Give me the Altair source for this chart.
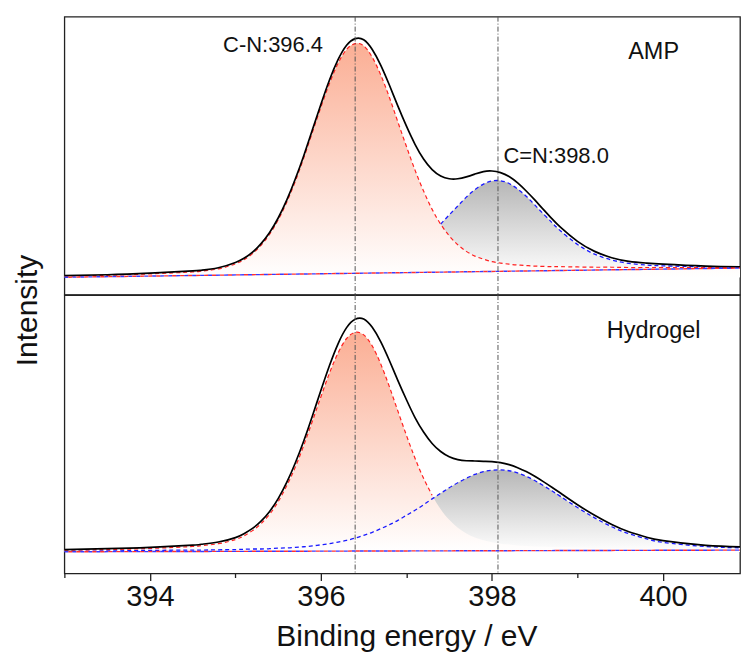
import altair as alt
import pandas as pd

FONT = "Liberation Sans"

# ---------------- data ----------------
energy = [393.0, 393.5, 394.0, 394.5, 394.6, 394.8, 395.0, 395.1, 395.2, 395.3,
          395.4, 395.5, 395.6, 395.7, 395.8, 395.9, 396.0, 396.1, 396.2, 396.3,
          396.4, 396.5, 396.6, 396.7, 396.8, 396.9, 397.0, 397.1, 397.2, 397.3,
          397.4, 397.5, 397.6, 397.7, 397.8, 397.9, 398.0, 398.1, 398.2, 398.3,
          398.4, 398.5, 398.6, 398.7, 398.8, 399.0, 399.2, 399.4, 399.6, 399.8,
          400.0, 400.5, 401.0]

amp_total = [6.9, 7.2, 7.8, 8.6, 8.8, 9.7, 11.6, 13.1, 15.3, 18.4,
             22.4, 27.6, 34.0, 41.6, 50.1, 59.3, 68.5, 77.2, 84.5, 89.7,
             92.1, 91.7, 88.2, 82.5, 75.4, 67.8, 60.6, 54.1, 48.8, 45.0,
             42.7, 41.7, 41.7, 42.4, 43.4, 44.3, 44.5, 43.9, 42.5, 40.2,
             37.3, 34.1, 30.7, 27.4, 24.3, 19.2, 15.6, 13.3, 12.0, 11.4,
             11.0, 10.3, 10.0]
amp_cn = [6.7, 7.0, 7.5, 8.2, 8.5, 9.3, 11.1, 12.6, 14.8, 17.8,
          21.8, 26.9, 33.3, 40.8, 49.3, 58.4, 67.5, 76.0, 83.2, 88.2,
          90.3, 89.5, 85.4, 79.0, 71.0, 62.1, 53.3, 44.8, 37.3, 30.7,
          25.4, 21.2, 18.0, 15.6, 13.9, 12.8, 11.9, 11.4, 11.0, 10.7,
          10.5, 10.3, 10.2, 10.1, 10.1, 10.0, 9.9, 9.9, 9.8, 9.8,
          9.8, 9.8, 9.8]
amp_cdn = [6.5, 6.7, 7.0, 7.3, 7.3, 7.5, 7.6, 7.7, 7.7, 7.8,
           7.9, 8.0, 8.1, 8.2, 8.3, 8.4, 8.6, 8.7, 8.9, 9.2,
           9.5, 10.0, 10.6, 11.3, 12.3, 13.6, 15.3, 17.3, 19.6, 22.4,
           25.4, 28.7, 31.9, 35.1, 37.8, 39.8, 40.9, 41.0, 40.0, 38.0,
           35.4, 32.3, 29.1, 26.0, 23.0, 18.1, 14.6, 12.5, 11.3, 10.7,
           10.4, 10.1, 10.0]

gel_total = [8.6, 8.9, 9.4, 10.2, 10.5, 11.3, 12.9, 14.3, 16.2, 18.8,
             22.3, 26.9, 32.7, 39.7, 47.7, 56.6, 65.8, 74.7, 82.5, 88.3,
             91.3, 91.4, 88.4, 83.2, 76.5, 69.3, 62.4, 56.0, 50.8, 46.7,
             43.8, 41.9, 40.9, 40.5, 40.4, 40.3, 40.2, 39.8, 39.1, 38.0,
             36.6, 34.9, 33.0, 31.0, 28.9, 24.7, 20.9, 17.6, 15.0, 13.1,
             11.8, 10.1, 9.5]
gel_cn = [8.4, 8.6, 9.0, 9.7, 10.0, 10.7, 12.2, 13.5, 15.4, 17.9,
          21.3, 25.8, 31.5, 38.2, 46.1, 54.7, 63.5, 72.0, 79.2, 84.4,
          86.6, 85.7, 81.7, 75.2, 67.1, 58.3, 49.6, 41.4, 34.2, 28.1,
          23.1, 19.3, 16.4, 14.4, 12.9, 11.9, 11.2, 10.7, 10.4, 10.1,
          9.9, 9.7, 9.6, 9.5, 9.4, 9.3, 9.1, 9.0, 9.0, 8.9,
          8.9, 8.8, 8.7]
gel_cdn = [8.0, 8.1, 8.3, 8.4, 8.4, 8.5, 8.6, 8.7, 8.8, 8.8,
           8.9, 9.1, 9.2, 9.4, 9.6, 9.9, 10.3, 10.7, 11.3, 11.9,
           12.7, 13.7, 14.8, 16.1, 17.5, 19.1, 20.9, 22.7, 24.7, 26.8,
           28.8, 30.8, 32.6, 34.2, 35.6, 36.6, 37.1, 37.2, 36.9, 36.1,
           34.9, 33.4, 31.6, 29.7, 27.7, 23.7, 20.0, 16.8, 14.3, 12.5,
           11.2, 9.7, 9.2]

# backgrounds (straight lines, end points)
base_energy = [393.0, 400.9]
amp_base = [6.3, 9.6]
gel_base = [7.8, 8.4]

# visible ends of the dashed components where they emerge
amp_cdn_visible_from = 397.35
gel_cn_visible_to = 397.33

peak_lines = [396.4, 398.07]

amp_ann_text = ["C-N:396.4", "C=N:398.0"]
amp_ann_E = [395.44, 398.75]
amp_ann_v = [87.3, 47.4]

sample_names = ["AMP", "Hydrogel"]
sample_E = [399.89, 399.89]
sample_v = [84.8, 84.6]

x_ticks = [393, 394, 395, 396, 397, 398, 399, 400]

# ---------------- layout ----------------
X_DOMAIN = [393, 400.9]
W = 677
H_TOP = 278.7
H_BOT = 279.0
CURVE = "natural"

red_grad = alt.Gradient(
    gradient="linear",
    stops=[alt.GradientStop(color="#fbae94", offset=0),
           alt.GradientStop(color="#ffffff", offset=1)],
    x1=0, x2=0, y1=0, y2=1)
gray_grad = alt.Gradient(
    gradient="linear",
    stops=[alt.GradientStop(color="#b6b6b6", offset=0),
           alt.GradientStop(color="#ffffff", offset=1)],
    x1=0, x2=0, y1=0, y2=1)

x_axis_bottom = alt.Axis(
    values=x_ticks,
    labelExpr="datum.value % 2 === 0 ? datum.label : ''",
    tickSize={"condition": {"test": "datum.value % 2 === 0", "value": 7}, "value": 4},
    tickColor="#222", tickWidth=1.3,
    domain=False, grid=False,
    labelFont=FONT, labelFontSize=29, labelColor="#111",
    labelBaseline="alphabetic", labelPadding=25,
    title="Binding energy / eV", titleFont=FONT, titleFontSize=30,
    titleFontWeight="normal", titleColor="#111",
    titleBaseline="alphabetic", titleX=342.7, titleY=72.5, titleAlign="center",
)

y_axis_top = alt.Axis(
    title="Intensity", labels=False, ticks=False, domain=False, grid=False,
    titleFont=FONT, titleFontSize=30, titleFontWeight="normal", titleColor="#111",
    titleBaseline="alphabetic", titleAlign="center", titleAngle=270,
    titleX=-28, titleY=294,
)


def panel(df, total, cn, cdn, base, height, x_axis, y_axis, line_filter_cn, line_filter_cdn,
          ann_df, name_df, base_left):
    xs = alt.X("E:Q", scale=alt.Scale(domain=X_DOMAIN, nice=False, zero=False), axis=x_axis)

    def ys(field):
        return alt.Y(f"{field}:Q", scale=alt.Scale(domain=[0, 100], nice=False, zero=False),
                     axis=y_axis)

    base_chart = alt.Chart(df)
    area_cdn = base_chart.mark_area(color=gray_grad, interpolate=CURVE, clip=True).encode(
        x=xs, y=ys(cdn), y2=alt.datum(base_left))
    area_cn = base_chart.mark_area(color=red_grad, interpolate=CURVE, clip=True).encode(
        x=xs, y=ys(cn), y2=alt.datum(base_left))
    line_cdn = base_chart.transform_filter(line_filter_cdn).mark_line(
        color="#1a1aff", strokeWidth=1.3, strokeDash=[4, 3], interpolate=CURVE, clip=True
    ).encode(x=xs, y=ys(cdn))
    line_cn = base_chart.transform_filter(line_filter_cn).mark_line(
        color="#ff2020", strokeWidth=1.2, strokeDash=[4, 3], interpolate=CURVE, clip=True
    ).encode(x=xs, y=ys(cn))
    line_tot = base_chart.mark_line(
        color="#000000", strokeWidth=1.7, interpolate=CURVE, clip=True
    ).encode(x=xs, y=ys(total))

    bdf = pd.DataFrame({"E": base_energy, "b": base})
    base_blue = alt.Chart(bdf).mark_line(color="#3a3aff", strokeWidth=1.4, strokeDash=[4, 4],
                                         clip=True).encode(x=xs, y=ys("b"))
    base_red = alt.Chart(bdf).mark_line(color="#ff3030", strokeWidth=1.4, strokeDash=[4, 4],
                                        strokeDashOffset=4, clip=True).encode(x=xs, y=ys("b"))

    rules = alt.Chart(pd.DataFrame({"E": peak_lines})).mark_rule(
        color="#555555", strokeWidth=1, strokeDash=[5, 2, 1, 2]).encode(x=xs)

    layers = [area_cdn, area_cn, line_cdn, line_cn, line_tot, base_blue, base_red, rules]
    if ann_df is not None:
        layers.append(alt.Chart(ann_df).mark_text(
            align="center", baseline="alphabetic", font=FONT, fontSize=22, color="#111"
        ).encode(x=xs, y=ys("v"), text="t:N"))
    layers.append(alt.Chart(name_df).mark_text(
        align="center", baseline="alphabetic", font=FONT, fontSize=23.5, color="#111"
    ).encode(x=xs, y=ys("v"), text="t:N"))

    return alt.layer(*layers).properties(width=W, height=height)


amp_df = pd.DataFrame({"E": energy, "total": amp_total, "cn": amp_cn, "cdn": amp_cdn})
gel_df = pd.DataFrame({"E": energy, "total": gel_total, "cn": gel_cn, "cdn": gel_cdn})

amp_ann = pd.DataFrame({"E": amp_ann_E, "v": amp_ann_v, "t": amp_ann_text})
amp_name = pd.DataFrame({"E": [sample_E[0]], "v": [sample_v[0]], "t": [sample_names[0]]})
gel_name = pd.DataFrame({"E": [sample_E[1]], "v": [sample_v[1]], "t": [sample_names[1]]})

top = panel(amp_df, "total", "cn", "cdn", amp_base, H_TOP, None, y_axis_top,
            alt.datum.E <= 500, alt.datum.E >= amp_cdn_visible_from,
            amp_ann, amp_name, amp_base[0])
bottom = panel(gel_df, "total", "cn", "cdn", gel_base, H_BOT, x_axis_bottom, None,
               alt.datum.E <= gel_cn_visible_to, alt.datum.E >= 0,
               None, gel_name, gel_base[0])

chart = alt.vconcat(top, bottom, spacing=0, bounds="flush").properties(
    padding={"left": 11.5, "top": 14, "right": 0, "bottom": 0}
).configure_view(
    stroke="#222222", strokeWidth=1.3
).configure_axis(grid=False)

chart.save("out.html", embed_options={"renderer": "svg", "actions": False})
